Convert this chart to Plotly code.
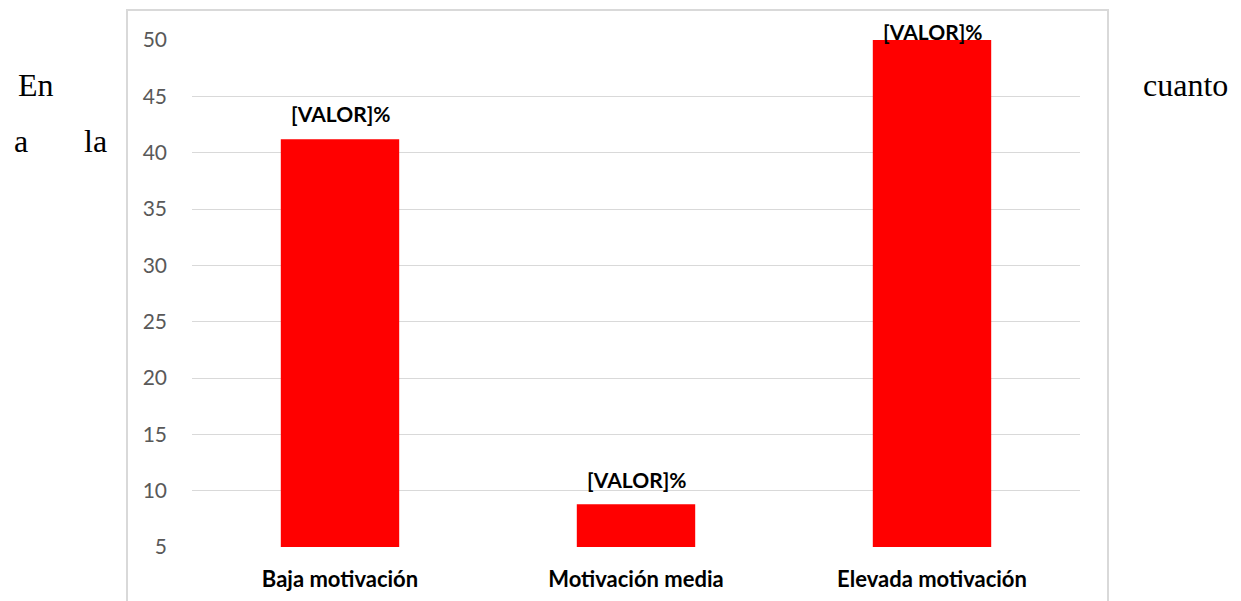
import plotly.graph_objects as go

categories = ["Baja motivación", "Motivación media", "Elevada motivación"]
values = [41.2, 8.8, 50.0]
labels = ["[VALOR]%", "[VALOR]%", "[VALOR]%"]
label_shift = [26, 25, 9]
tick_vals = [5, 10, 15, 20, 25, 30, 35, 40, 45, 50]

W, H = 1241, 601
OFF = 8  # page body margin
L, R, T, B = 192 - OFF, 161 + OFF, 40 - OFF, 54 + OFF
pw, ph = W - L - R, H - T - B


def px(x):
    return (x - OFF - L) / pw


def py(y):
    return (H - B - (y - OFF)) / ph


sans = "Lato, Open Sans, sans-serif"

fig = go.Figure()
fig.add_trace(go.Bar(
    x=categories, y=values, base=0,
    marker=dict(color="#ff0000", line=dict(width=0)),
    width=0.4,
))

for c, v, t, s in zip(categories, values, labels, label_shift):
    fig.add_annotation(x=c, y=v, text="<b>" + t + "</b>", showarrow=False,
                       yshift=s, font=dict(family=sans, size=21, color="#000000"))

# chart frame
fig.add_shape(type="rect", xref="paper", yref="paper",
              x0=px(127), x1=px(1108),
              y0=-0.3, y1=py(10),
              line=dict(color="#d9d9d9", width=2), fillcolor="rgba(0,0,0,0)", layer="below")

# surrounding document text
serif = dict(family="Liberation Serif, Times New Roman, serif", size=32, color="#000000")
fig.add_annotation(xref="paper", yref="paper", x=px(16), y=py(85),
                   text="En", showarrow=False, xanchor="left", yanchor="middle", font=serif)
fig.add_annotation(xref="paper", yref="paper", x=px(12), y=py(141),
                   text="a", showarrow=False, xanchor="left", yanchor="middle", font=serif)
fig.add_annotation(xref="paper", yref="paper", x=px(82), y=py(141),
                   text="la", showarrow=False, xanchor="left", yanchor="middle", font=serif)
fig.add_annotation(xref="paper", yref="paper", x=px(1230), y=py(85),
                   text="cuanto", showarrow=False, xanchor="right", yanchor="middle", font=serif)

fig.update_layout(
    width=W, height=H,
    margin=dict(l=L, r=R, t=T, b=B, pad=0),
    paper_bgcolor="white", plot_bgcolor="white",
    showlegend=False,
    xaxis=dict(showgrid=False, showline=False, ticks="", zeroline=False,
               tickfont=dict(family=sans, size=22, color="#000000", weight="bold"),
               ticklabelstandoff=17),
    yaxis=dict(range=[5, 50], tickvals=tick_vals, showgrid=True, gridcolor="#d9d9d9", gridwidth=1,
               zeroline=False, showline=False, ticks="",
               tickfont=dict(family=sans, size=21, color="#595959"),
               ticklabelstandoff=24),
)

fig.write_html("out.html")
